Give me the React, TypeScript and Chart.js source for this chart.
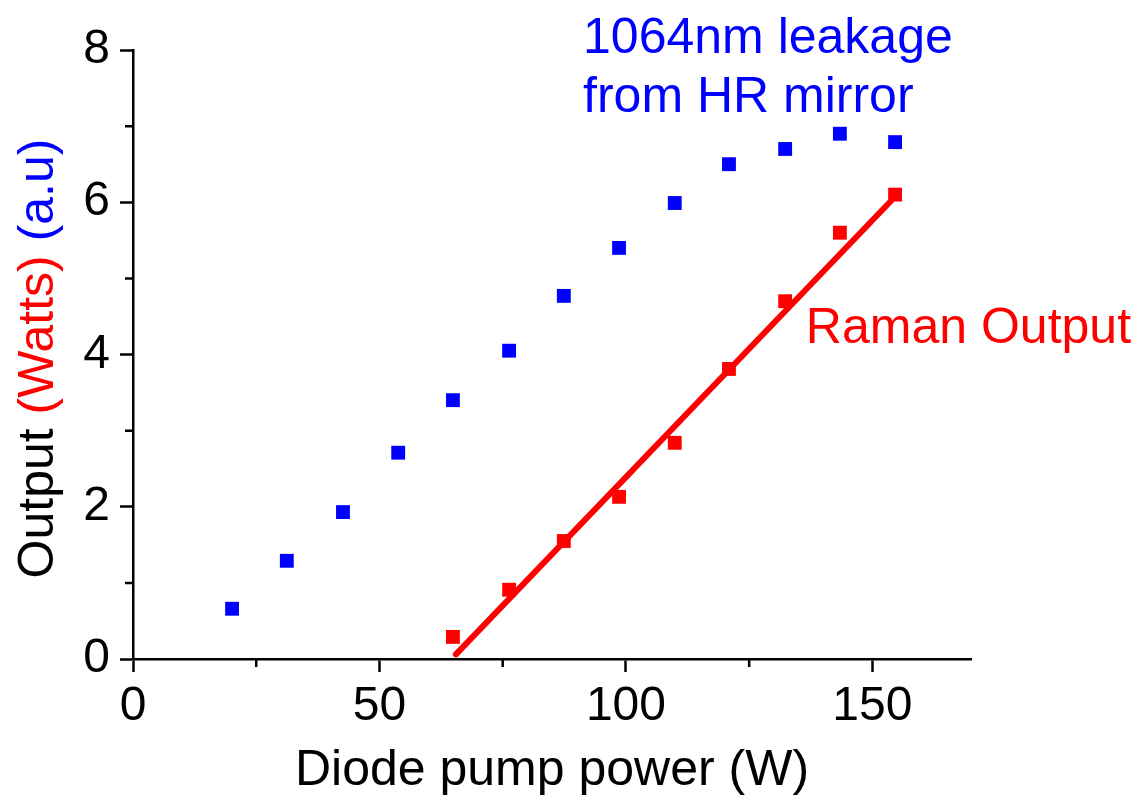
import React, { useEffect, useRef } from "react";
import { Chart, registerables } from "chart.js";

Chart.register(...registerables);

// Diode pump power (W)
const pumpPower = [20.1, 31.2, 42.6, 53.8, 64.9, 76.3, 87.4, 98.6, 109.9, 120.9, 132.3, 143.4, 154.6];
// 1064nm leakage from HR mirror (a.u)
const leakage = [0.66, 1.29, 1.93, 2.71, 3.40, 4.05, 4.77, 5.40, 5.99, 6.50, 6.70, 6.90, 6.79];
// Raman output (W), measured from 64.9 W pump onwards
const ramanPump = [64.9, 76.3, 87.4, 98.6, 109.9, 120.9, 132.3, 143.4, 154.6];
const ramanOutput = [0.29, 0.91, 1.55, 2.13, 2.84, 3.81, 4.70, 5.60, 6.10];
// Linear fit line endpoints
const fitPump = [65.5, 153.8];
const fitOutput = [0.06, 6.02];

const xTicks = [0, 50, 100, 150];
const yTicks = [0, 2, 4, 6, 8];
const xMinorTicks = [25, 75, 125];
const yMinorTicks = [1, 3, 5, 7];

const FONT = "'Liberation Sans', Arial, sans-serif";
const BLUE = "#0000ff";
const RED = "#ff0000";

const textPlugin = {
  id: "texts",
  afterDraw(chart: any) {
    const ctx = chart.ctx;
    const xs = chart.scales.x;
    const ys = chart.scales.y;
    const area = chart.chartArea;
    ctx.save();
    // minor ticks
    ctx.strokeStyle = "#000";
    ctx.lineWidth = 2.5;
    ctx.beginPath();
    xMinorTicks.forEach((v) => {
      const px = xs.getPixelForValue(v);
      ctx.moveTo(px, area.bottom);
      ctx.lineTo(px, area.bottom + 8);
    });
    yMinorTicks.forEach((v) => {
      const py = ys.getPixelForValue(v);
      ctx.moveTo(area.left - 8, py);
      ctx.lineTo(area.left, py);
    });
    ctx.stroke();

    ctx.font = `50px ${FONT}`;
    ctx.textBaseline = "alphabetic";
    ctx.textAlign = "left";
    // annotations
    ctx.fillStyle = BLUE;
    ctx.fillText("1064nm leakage", xs.getPixelForValue(91.3), ys.getPixelForValue(7.96));
    ctx.fillText("from HR mirror", xs.getPixelForValue(91.3), ys.getPixelForValue(7.19));
    ctx.fillStyle = RED;
    ctx.fillText("Raman Output", xs.getPixelForValue(136.5), ys.getPixelForValue(4.15));

    // x title
    ctx.fillStyle = "#000";
    ctx.textAlign = "center";
    ctx.fillText("Diode pump power (W)", (area.left + area.right) / 2, 785);

    // y title multi-colour
    const parts: [string, string][] = [
      ["Output ", "#000"],
      ["(Watts)", RED],
      [" (a.u)", BLUE],
    ];
    const total = parts.reduce((s, p) => s + ctx.measureText(p[0]).width, 0);
    ctx.translate(53, (area.top + area.bottom) / 2 + 4);
    ctx.rotate(-Math.PI / 2);
    ctx.textAlign = "left";
    let cx = -total / 2;
    parts.forEach(([t, c]) => {
      ctx.fillStyle = c;
      ctx.fillText(t, cx, 0);
      cx += ctx.measureText(t).width;
    });
    ctx.restore();
  },
};

export default function App() {
  const ref = useRef<HTMLCanvasElement>(null);
  useEffect(() => {
    document.body.style.margin = "0";
    const chart = new Chart(ref.current!, {
      type: "scatter",
      data: {
        datasets: [
          {
            type: "line",
            data: fitPump.map((x, i) => ({ x, y: fitOutput[i] })),
            borderColor: RED,
            borderWidth: 6,
            borderCapStyle: "round",
            pointRadius: 0,
            fill: false,
            order: 0,
          } as any,
          {
            data: ramanPump.map((x, i) => ({ x, y: ramanOutput[i] })),
            backgroundColor: RED,
            borderWidth: 0,
            pointStyle: "rect",
            pointRadius: 9.8,
            order: 1,
          },
          {
            data: pumpPower.map((x, i) => ({ x, y: leakage[i] })),
            backgroundColor: BLUE,
            borderWidth: 0,
            pointStyle: "rect",
            pointRadius: 9.8,
            order: 2,
          },
        ],
      },
      options: {
        animation: false,
        responsive: false,
        devicePixelRatio: 1,
        layout: { padding: { top: 50, right: 172, left: 0, bottom: 0 } },
        plugins: { legend: { display: false }, tooltip: { enabled: false } },
        scales: {
          x: {
            type: "linear",
            min: 0,
            max: 170,
            afterFit: (s: any) => {
              s.height = 136;
            },
            afterBuildTicks: (s: any) => {
              s.ticks = xTicks.map((v) => ({ value: v }));
            },
            ticks: { font: { family: FONT, size: 48 }, color: "#000", padding: 6, maxRotation: 0 },
            grid: { display: true, drawOnChartArea: false, tickLength: 13, tickWidth: 2.5, tickColor: "#000" },
            border: { display: true, color: "#000", width: 2.5 },
          },
          y: {
            type: "linear",
            min: 0,
            max: 8,
            afterFit: (s: any) => {
              s.width = 133;
            },
            afterBuildTicks: (s: any) => {
              s.ticks = yTicks.map((v) => ({ value: v }));
            },
            ticks: { font: { family: FONT, size: 48 }, color: "#000", padding: 10 },
            grid: { display: true, drawOnChartArea: false, tickLength: 13, tickWidth: 2.5, tickColor: "#000" },
            border: { display: true, color: "#000", width: 2.5 },
          },
        },
      },
      plugins: [textPlugin],
    });
    return () => chart.destroy();
  }, []);
  return (
    <div style={{ position: "fixed", left: 0, top: 0, width: 1143, height: 795, background: "#fff" }}>
      <canvas ref={ref} width={1143} height={795} style={{ display: "block" }} />
    </div>
  );
}
